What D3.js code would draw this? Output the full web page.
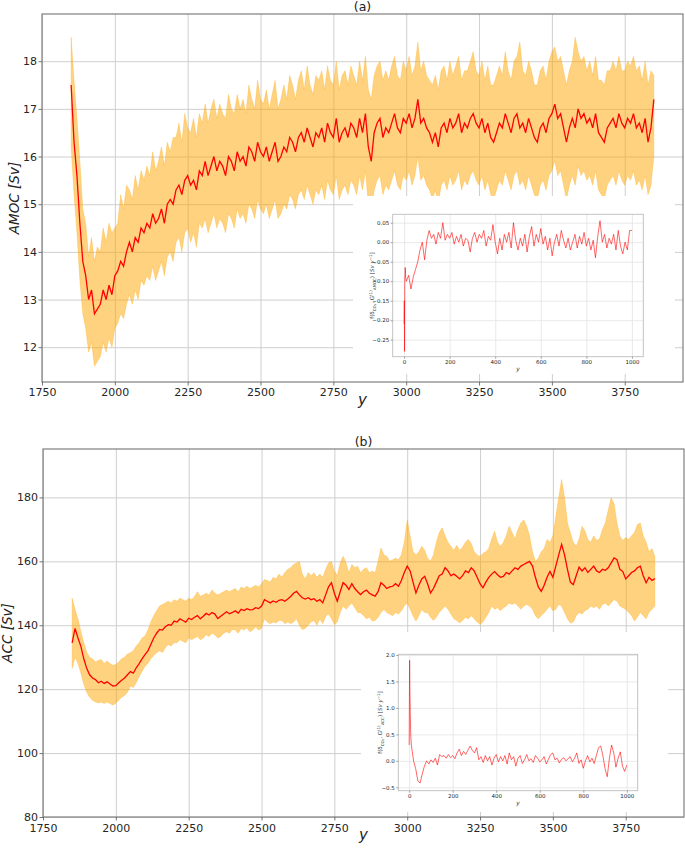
<!DOCTYPE html>
<html lang="en">
<head>
<meta charset="utf-8">
<script src="https://cdn.jsdelivr.net/npm/d3@7"></script>
<style>
body { margin: 0; background: #fff; }
text { font-family: "DejaVu Sans", sans-serif; }
</style>
</head>
<body>
<svg width="685" height="849"></svg>
<script>
// years of the main runs (one value read every 10 y)
var years = d3.range(1850, 3851, 10);
var mainTicksX = [1750, 2000, 2250, 2500, 2750, 3000, 3250, 3500, 3750];

var amocMean = [17.5, 16.3, 15.6, 14.6, 13.8, 13.5,
    13.0, 13.2, 12.7, 12.8, 12.9, 13.2, 13.0, 13.3, 13.1, 13.5,
    13.6, 13.8, 13.7, 14.0, 14.2, 14.0, 14.3, 14.2, 14.5, 14.4,
    14.6, 14.5, 14.8, 14.6, 14.7, 14.9, 14.6, 15.0, 15.1, 15.0,
    15.3, 15.4, 15.2, 15.5, 15.6, 15.4, 15.5, 15.3, 15.7, 15.6,
    15.9, 15.6, 15.8, 16.0, 15.7, 15.9, 15.8, 15.6, 16.0, 15.9,
    15.7, 16.1, 15.9, 16.0, 15.8, 16.2, 16.1, 15.9, 16.3, 16.1,
    16.0, 16.2, 15.9, 16.1, 16.3, 15.9, 16.0, 16.2, 16.1, 16.4,
    16.3, 16.1, 16.4, 16.5, 16.3, 16.6, 16.4, 16.2, 16.5, 16.4,
    16.6, 16.3, 16.7, 16.5, 16.4, 16.8, 16.3, 16.5, 16.6, 16.4,
    16.7, 16.6, 16.4, 16.8, 16.5, 16.9, 16.2, 15.9, 16.5, 16.7,
    16.8, 16.4, 16.6, 16.5, 16.7, 16.9, 16.6, 16.5, 16.8, 16.7,
    16.9, 16.6, 16.8, 17.2, 16.7, 16.8, 16.6, 16.5, 16.3, 16.5,
    16.2, 16.6, 16.7, 16.5, 16.8, 16.6, 16.7, 16.9, 16.5, 16.7,
    16.6, 16.8, 16.9, 16.7, 16.6, 16.8, 16.5, 16.7, 16.4, 16.3,
    16.5, 16.7, 16.6, 16.9, 16.7, 16.5, 16.8, 16.9, 16.6, 16.7,
    16.5, 16.8, 16.6, 16.4, 16.3, 16.6, 16.7, 16.5, 16.8, 16.9,
    17.1, 16.8, 16.9, 16.6, 16.3, 16.6, 16.8, 16.6, 17.0, 16.8,
    16.9, 16.7, 16.8, 16.6, 16.9, 16.5, 16.4, 16.3, 16.6, 16.7,
    16.8, 16.6, 16.9, 16.7, 16.6, 16.8, 16.7, 16.9, 16.6, 16.7,
    16.5, 16.8, 16.3, 16.6, 17.2];

var amocUpper = [18.5, 17.6, 16.8, 15.9, 14.9, 14.6,
    13.9, 14.3, 13.8, 14.1, 14.0, 14.5, 14.2, 14.6, 14.4, 14.5,
    14.6, 15.2, 14.9, 15.4, 15.3, 15.1, 15.6, 15.3, 15.7, 15.5,
    15.8, 15.6, 16.1, 15.7, 15.9, 16.2, 15.8, 16.3, 16.1, 16.4,
    16.4, 16.7, 16.3, 16.9, 16.6, 16.5, 16.8, 16.4, 16.9, 16.7,
    17.1, 16.7, 17.0, 17.2, 16.8, 17.1, 16.9, 16.8, 17.3, 17.0,
    16.9, 17.3, 17.0, 17.2, 16.9, 17.5, 17.2, 17.0, 17.6, 17.2,
    17.1, 17.4, 17.0, 17.3, 17.6, 17.0, 17.2, 17.5, 17.2, 17.7,
    17.5, 17.2, 17.6, 17.8, 17.4, 17.9, 17.5, 17.3, 17.7, 17.6,
    17.8, 17.4, 17.9, 17.6, 17.5, 18.0, 17.4, 17.7, 17.8, 17.5,
    17.9, 17.7, 17.5, 18.0, 17.6, 18.1, 17.4, 17.2, 17.7, 17.9,
    18.0, 17.6, 17.8, 17.6, 17.9, 18.1, 17.7, 17.6, 18.0, 17.8,
    18.1, 17.7, 17.9, 18.4, 17.8, 18.0, 17.7, 17.6, 17.5, 17.7,
    17.4, 17.8, 17.9, 17.6, 18.0, 17.7, 17.9, 18.1, 17.6, 17.8,
    17.8, 18.0, 18.2, 17.8, 17.7, 18.0, 17.6, 17.9, 17.5, 17.5,
    17.7, 17.9, 17.7, 18.2, 17.8, 17.6, 18.0, 18.1, 18.4, 17.8,
    17.7, 18.0, 17.8, 17.5, 17.5, 17.8, 17.9, 17.6, 18.0, 18.2,
    18.3, 18.0, 18.1, 17.8, 17.5, 17.8, 18.0, 18.5, 18.2, 18.0,
    18.1, 17.8, 18.0, 17.7, 18.1, 17.6, 17.6, 17.5, 17.8, 17.8,
    18.0, 17.8, 18.1, 17.8, 17.8, 18.0, 17.9, 18.1, 17.8, 17.9,
    17.6, 18.0, 17.5, 17.8, 17.7];

var amocLower = [16.2, 15.2, 14.4, 13.4, 12.7, 12.4,
    11.9, 12.1, 11.6, 11.7, 11.8, 12.1, 11.9, 12.2, 12.0, 12.4,
    12.5, 12.7, 12.6, 12.9, 13.1, 12.9, 13.2, 13.0, 13.4, 13.3,
    13.5, 13.4, 13.7, 13.4, 13.6, 13.8, 13.5, 13.9, 14.0, 13.8,
    14.2, 14.3, 14.0, 14.4, 14.5, 14.2, 14.4, 14.1, 14.6, 14.5,
    14.7, 14.4, 14.6, 14.8, 14.5, 14.7, 14.6, 14.4, 14.8, 14.7,
    14.5, 14.9, 14.7, 14.8, 14.6, 15.0, 14.9, 14.7, 15.1, 14.9,
    14.8, 15.0, 14.7, 14.9, 15.1, 14.7, 14.8, 15.0, 14.9, 15.2,
    15.1, 14.9, 15.2, 15.3, 15.1, 15.4, 15.2, 15.0, 15.3, 15.2,
    15.4, 15.1, 15.5, 15.3, 15.2, 15.6, 15.1, 15.3, 15.4, 15.2,
    15.5, 15.4, 15.2, 15.6, 15.3, 15.7, 15.0, 14.8, 15.3, 15.5,
    15.6, 15.2, 15.4, 15.3, 15.5, 15.7, 15.4, 15.3, 15.6, 15.5,
    15.7, 15.4, 15.6, 16.0, 15.5, 15.6, 15.4, 15.3, 15.1, 15.3,
    15.0, 15.4, 15.5, 15.3, 15.6, 15.4, 15.5, 15.7, 15.3, 15.5,
    15.4, 15.6, 15.7, 15.5, 15.4, 15.6, 15.3, 15.5, 15.2, 15.1,
    15.3, 15.5, 15.4, 15.7, 15.5, 15.3, 15.6, 15.7, 15.4, 15.5,
    15.3, 15.6, 15.4, 15.2, 15.1, 15.4, 15.5, 15.3, 15.6, 15.7,
    15.9, 15.6, 15.7, 15.4, 15.1, 15.4, 15.6, 15.4, 15.8, 15.6,
    15.7, 15.5, 15.6, 15.4, 15.7, 15.3, 15.2, 15.1, 15.4, 15.5,
    15.6, 15.4, 15.7, 15.5, 15.4, 15.6, 15.5, 15.7, 15.4, 15.5,
    15.3, 15.6, 15.2, 15.4, 16.0];

var accMean = [134.5, 139.0, 136.0, 133.4, 129.5, 126.5,
    124.5, 123.5, 123.0, 122.0, 122.5, 121.8, 122.3, 121.6, 121.0, 121.1,
    122.0, 122.8, 123.5, 124.5, 125.5, 125.0, 126.7, 128.0, 129.5, 130.8,
    132.0, 134.0, 136.0, 137.5, 138.7, 138.5, 139.5, 140.2, 140.0, 141.3,
    141.0, 142.0, 141.5, 141.0, 142.2, 141.8, 142.5, 143.0, 142.0, 142.8,
    143.7, 143.2, 144.0, 143.5, 142.1, 142.8, 143.5, 144.2, 143.6, 144.0,
    144.5, 143.8, 145.0, 144.6, 145.2, 144.8, 144.9, 145.5, 145.2, 146.0,
    148.0, 147.5, 147.0, 147.6, 147.2, 147.8, 148.0, 147.5, 148.2, 149.0,
    150.0, 150.6, 149.5, 148.6, 148.2, 148.6, 148.0, 148.3, 147.5, 148.0,
    147.0, 149.5, 152.0, 153.3, 150.0, 147.5, 150.5, 153.3, 152.5, 151.2,
    153.0, 151.5, 150.5, 149.6, 150.5, 151.0, 150.0, 149.5, 149.1, 150.5,
    153.3, 152.5, 151.5, 152.0, 152.2, 153.0, 152.2, 154.0, 156.5, 158.5,
    157.0, 153.5, 150.1, 152.5, 154.5, 155.3, 153.0, 150.1, 151.5, 153.5,
    155.5, 156.0, 158.0, 157.0, 155.5, 156.0, 155.3, 154.5, 155.5, 157.0,
    156.5, 158.0, 157.0, 155.0, 153.0, 151.7, 153.5, 155.0, 156.0, 156.8,
    155.8, 155.0, 155.3, 156.5, 156.0, 157.0, 158.0, 157.5, 158.5, 159.0,
    159.5, 160.0, 158.5, 155.0, 152.0, 150.6, 152.5, 155.0, 156.8, 155.0,
    158.5, 162.0, 165.3, 162.0, 157.5, 153.5, 152.7, 155.5, 158.2, 157.0,
    158.0, 156.5, 157.5, 158.5, 157.0, 156.5, 157.5, 157.2, 158.0, 159.5,
    161.1, 160.5, 157.5, 156.8, 154.5, 155.5, 156.5, 157.0, 158.0, 158.5,
    155.5, 153.3, 155.0, 154.0, 154.6];

var accUpper = [148.5, 145.0, 142.0, 138.0, 134.5, 131.5,
    130.0, 129.5, 128.5, 129.0, 129.3, 128.0, 128.8, 128.0, 127.5, 127.7,
    128.5, 129.5, 130.0, 131.0, 131.4, 132.0, 133.5, 134.5, 136.0, 136.6,
    138.5, 141.0, 143.0, 144.5, 146.0, 146.5, 147.0, 147.5, 147.0, 148.0,
    147.5, 148.5, 148.0, 147.5, 148.5, 148.0, 149.0, 150.5, 149.0, 149.5,
    150.0, 149.5, 151.0, 150.0, 149.5, 150.0, 150.5, 151.0, 150.5, 151.0,
    151.5, 150.5, 152.0, 151.5, 152.2, 151.5, 152.0, 152.5, 152.0, 153.0,
    154.3, 154.0, 153.5, 155.0, 154.5, 156.0, 155.0, 156.5, 157.5, 158.0,
    159.0, 159.5, 160.0, 156.0, 154.5, 156.5, 155.5, 156.4, 155.0, 156.0,
    155.0, 157.5, 159.5, 160.0, 157.0, 155.5, 159.5, 161.6, 159.5, 156.4,
    159.0, 158.0, 158.5, 156.4, 157.5, 158.0, 156.4, 157.0, 156.4, 160.0,
    164.2, 162.0, 161.6, 160.0, 160.5, 161.0, 160.5, 162.0, 166.0, 173.0,
    168.0, 163.0, 162.0, 163.0, 164.7, 163.5, 161.0, 160.1, 162.0, 166.0,
    169.0, 170.5, 168.0, 166.0, 164.7, 163.5, 165.0, 163.5, 164.5, 166.0,
    166.8, 165.5, 163.0, 162.0, 161.5, 162.5, 163.0, 164.0, 167.0, 169.4,
    166.0, 164.7, 166.0, 168.0, 171.0, 169.0, 167.0, 170.0, 172.0, 173.0,
    171.0, 168.0, 163.0, 160.0, 161.0, 163.0, 164.0, 166.8, 166.0, 168.0,
    174.0, 180.0, 185.6, 180.0, 172.0, 168.9, 166.0, 164.7, 167.0, 171.0,
    169.5, 166.8, 166.0, 168.0, 166.5, 167.0, 170.0, 172.0, 176.0, 179.9,
    178.0, 172.0, 167.9, 166.5, 167.5, 166.8, 168.0, 169.0, 171.5, 172.0,
    168.0, 166.0, 163.0, 164.0, 161.5];

var accLower = [126.5, 130.0, 128.0, 125.0, 121.5, 119.0,
    117.5, 116.5, 116.0, 115.7, 116.0, 115.5, 116.0, 115.5, 115.0, 115.7,
    116.5, 117.5, 118.0, 119.0, 121.0, 120.5, 122.0, 124.0, 125.5, 127.2,
    128.0, 129.5, 130.5, 131.4, 132.0, 131.5, 133.0, 134.0, 133.5, 134.5,
    134.5, 135.5, 135.0, 134.5, 136.0, 135.5, 136.0, 136.5, 135.5, 136.0,
    137.0, 136.5, 137.5, 137.0, 136.0, 136.5, 137.5, 138.0, 137.5, 138.7,
    138.5, 137.5, 139.0, 138.5, 139.2, 138.0, 138.5, 139.5, 138.5, 139.0,
    142.0, 141.0, 140.5, 141.0, 140.7, 141.5, 141.5, 140.5, 141.0, 140.5,
    141.0, 142.0, 140.0, 138.7, 139.0, 140.0, 141.0, 141.5, 140.0, 142.0,
    140.5, 142.8, 143.5, 142.0, 140.2, 141.0, 144.0, 146.0, 145.0, 146.0,
    147.0, 145.5, 144.0, 143.9, 143.0, 142.0, 142.5, 141.3, 141.5, 142.5,
    144.0, 144.9, 144.0, 143.5, 143.0, 144.0, 143.5, 144.5, 146.0, 147.0,
    145.0, 143.0, 141.3, 143.0, 144.9, 144.0, 143.9, 142.5, 141.5, 142.5,
    144.0, 145.0, 146.0, 145.0, 143.5, 142.0, 141.5, 140.7, 141.5, 142.5,
    142.0, 143.0, 142.0, 141.0, 140.2, 141.0, 142.5, 144.0, 146.0, 145.0,
    145.5, 144.5, 145.5, 146.0, 147.0, 146.5, 147.0, 146.0, 145.0, 146.0,
    146.5, 146.0, 145.0, 143.0, 142.0, 143.0, 143.9, 145.0, 146.0, 144.5,
    145.0, 146.5, 146.0, 144.0, 142.0, 140.7, 141.0, 143.0, 144.0, 143.5,
    144.5, 145.0, 146.0, 145.5, 146.0, 145.0, 146.5, 147.0, 146.0, 147.0,
    148.0, 147.5, 146.0, 145.5, 145.0, 144.0, 143.0, 141.3, 142.5, 144.0,
    143.0, 142.0, 144.0, 145.0, 146.0];

// inset time axis (first years denser)
var insetT = [0, 1, 2, 3, 5, 7].concat(d3.range(10, 1001, 10));
var insetTicksX = [0, 200, 400, 600, 800, 1000];

var amocInset = [-0.21, -0.15, -0.28, -0.10, -0.065, -0.09,
    -0.10, -0.085, -0.12, -0.09, -0.07, -0.05, -0.02, 0.0, -0.045, 0.005,
    0.03, 0.01, 0.02, -0.005, 0.025, 0.01, 0.05, 0.005, 0.02, 0.01,
    0.025, -0.005, 0.015, 0.0, 0.02, -0.01, 0.01, 0.005, -0.025, 0.01,
    0.025, 0.0, 0.02, 0.01, 0.03, -0.01, 0.015, 0.005, 0.045, 0.0,
    -0.03, 0.01, -0.02, 0.02, 0.0, 0.025, -0.015, 0.05, 0.005, -0.02,
    0.01, -0.01, 0.02, -0.025, 0.015, 0.04, -0.01, 0.02, 0.0, 0.035,
    -0.005, 0.015, -0.02, 0.01, -0.035, 0.0, 0.02, -0.01, 0.03, 0.005,
    -0.015, 0.01, -0.02, 0.0, 0.02, -0.015, 0.015, -0.005, 0.025, -0.01,
    0.01, -0.02, 0.005, -0.04, 0.015, 0.055, 0.0, 0.02, -0.015, 0.01,
    -0.005, 0.02, -0.02, 0.03, -0.01, -0.03, 0.0, -0.02, 0.03, 0.03];

var accInset = [0.3, 1.2, 1.9, 1.4, 0.9, 0.5,
    0.3, 0.0, -0.15, -0.38, -0.42, -0.25, -0.1, 0.0, -0.06, 0.02,
    -0.03, 0.05, -0.08, 0.12, 0.08, 0.1, 0.05, 0.12, 0.06, 0.1,
    0.04, 0.15, 0.22, 0.1, 0.18, 0.12, 0.2, 0.28, 0.2, 0.15,
    0.25, 0.02, 0.08, -0.03, 0.1, 0.0, 0.08, -0.08, 0.05, 0.12,
    -0.02, 0.08, 0.0, 0.1, -0.06, 0.15, 0.02, 0.08, -0.1, 0.05,
    0.1, -0.05, 0.02, 0.12, 0.0, 0.04, -0.03, 0.1, 0.05, -0.02,
    0.02, 0.08, -0.06, 0.03, 0.12, 0.15, 0.02, 0.05, -0.04, 0.03,
    0.06, 0.0, 0.04, 0.08, -0.02, 0.05, 0.15, -0.05, 0.02, -0.14,
    0.0, 0.1, -0.02, 0.05, -0.05, 0.1, 0.25, 0.28, 0.1, -0.15,
    -0.3, 0.05, 0.3, 0.15, -0.12, 0.05, 0.17, -0.1, -0.2, -0.08];

var amocTicksY = [12, 13, 14, 15, 16, 17, 18];
var accTicksY = [80, 100, 120, 140, 160, 180];
var amocInsetTicksY = [-0.25, -0.20, -0.15, -0.10, -0.05, 0.00, 0.05];
var accInsetTicksY = [-0.5, 0.0, 0.5, 1.0, 1.5, 2.0];

var svg = d3.select("svg");

function styleAxis(sel, size, col) {
    sel.attr("font-family", "DejaVu Sans").attr("font-size", size);
    sel.select(".domain").remove();
    sel.selectAll(".tick line").attr("stroke", col).attr("stroke-width", 0.8);
    sel.selectAll(".tick text").attr("fill", "#262626");
}

function drawPanel(p) {
    var g = svg.append("g");
    var x = d3.scaleLinear().domain([1750, 3950]).range([p.l, p.r]);
    var y = d3.scaleLinear().domain(p.yDomain).range([p.b, p.t]);

    // grid
    g.append("g").call(d3.axisBottom(x).tickValues(mainTicksX).tickSize(p.b - p.t).tickFormat(""))
        .attr("transform", "translate(0," + p.t + ")")
        .call(function(s) { s.select(".domain").remove(); s.selectAll("line").attr("stroke", "#cfcfcf").attr("stroke-width", 1); });
    g.append("g").call(d3.axisLeft(y).tickValues(p.ticksY).tickSize(-(p.r - p.l)).tickFormat(""))
        .attr("transform", "translate(" + p.l + ",0)")
        .call(function(s) { s.select(".domain").remove(); s.selectAll("line").attr("stroke", "#cfcfcf").attr("stroke-width", 1); });

    var band = d3.area()
        .x(function(d, i) { return x(years[i]); })
        .y0(function(d, i) { return y(p.lower[i]); })
        .y1(function(d, i) { return y(p.upper[i]); });
    g.append("path").datum(p.upper).attr("d", band)
        .attr("fill", "#ffa500").attr("fill-opacity", 0.5)
        .attr("stroke", "#ffa500").attr("stroke-opacity", 0.35).attr("stroke-width", 0.8);

    var line = d3.line()
        .x(function(d, i) { return x(years[i]); })
        .y(function(d) { return y(d); });
    g.append("path").datum(p.mean).attr("d", line)
        .attr("fill", "none").attr("stroke", "#ff0000").attr("stroke-width", 1.3);

    // frame
    g.append("rect").attr("x", p.l).attr("y", p.t).attr("width", p.r - p.l).attr("height", p.b - p.t)
        .attr("fill", "none").attr("stroke", "#7f7f7f").attr("stroke-width", 1.2);

    g.append("g").attr("transform", "translate(0," + p.b + ")")
        .call(d3.axisBottom(x).tickValues(mainTicksX).tickSize(3.5).tickPadding(p.padX).tickFormat(d3.format("d")))
        .call(styleAxis, 11, "#555");
    g.append("g").attr("transform", "translate(" + p.l + ",0)")
        .call(d3.axisLeft(y).tickValues(p.ticksY).tickSize(3.5).tickPadding(1.5).tickFormat(d3.format("d")))
        .call(styleAxis, 11, "#555");

    g.append("text").attr("x", (p.l + p.r) / 2).attr("y", p.t - 3).attr("text-anchor", "middle")
        .attr("font-size", 12.5).attr("fill", "#222").text(p.title);
    g.append("text").attr("x", (p.l + p.r) / 2).attr("y", p.b + 23).attr("text-anchor", "middle")
        .attr("font-size", 15).attr("font-style", "italic").attr("fill", "#222").text("y");
    g.append("text").attr("transform", "translate(" + p.yLabelX + "," + (p.t + p.b) / 2 + ") rotate(-90)")
        .attr("text-anchor", "middle").attr("font-size", 13.5).attr("font-style", "italic")
        .attr("fill", "#222").text(p.yLabel);

    drawInset(p.inset);
}

function drawInset(q) {
    var g = svg.append("g");
    g.append("rect").attr("x", q.bg[0]).attr("y", q.bg[1]).attr("width", q.bg[2] - q.bg[0])
        .attr("height", q.bg[3] - q.bg[1]).attr("fill", "#fff");
    var x = d3.scaleLinear().domain([-50, 1050]).range([q.l, q.r]);
    var y = d3.scaleLinear().domain(q.yDomain).range([q.b, q.t]);

    g.append("g").call(d3.axisBottom(x).tickValues(insetTicksX).tickSize(q.b - q.t).tickFormat(""))
        .attr("transform", "translate(0," + q.t + ")")
        .call(function(s) { s.select(".domain").remove(); s.selectAll("line").attr("stroke", "#e3e3e3").attr("stroke-width", 0.8); });
    g.append("g").call(d3.axisLeft(y).tickValues(q.ticksY).tickSize(-(q.r - q.l)).tickFormat(""))
        .attr("transform", "translate(" + q.l + ",0)")
        .call(function(s) { s.select(".domain").remove(); s.selectAll("line").attr("stroke", "#e3e3e3").attr("stroke-width", 0.8); });

    var line = d3.line()
        .x(function(d, i) { return x(insetT[i]); })
        .y(function(d) { return y(d); });
    g.append("path").datum(q.values).attr("d", line)
        .attr("fill", "none").attr("stroke", "#ff0000").attr("stroke-opacity", 0.75).attr("stroke-width", 0.8);

    g.append("rect").attr("x", q.l).attr("y", q.t).attr("width", q.r - q.l).attr("height", q.b - q.t)
        .attr("fill", "none").attr("stroke", "#bdbdbd").attr("stroke-width", 0.9);

    g.append("g").attr("transform", "translate(0," + q.b + ")")
        .call(d3.axisBottom(x).tickValues(insetTicksX).tickSize(2).tickPadding(1.5).tickFormat(d3.format("d")))
        .call(styleAxis, 5.5, "#888");
    g.append("g").attr("transform", "translate(" + q.l + ",0)")
        .call(d3.axisLeft(y).tickValues(q.ticksY).tickSize(2).tickPadding(1.5).tickFormat(d3.format(q.fmt)))
        .call(styleAxis, 5.5, "#888");

    g.append("text").attr("x", (q.l + q.r) / 2).attr("y", q.b + 14).attr("text-anchor", "middle")
        .attr("font-size", 6).attr("font-style", "italic").attr("fill", "#333").text("y");

    // rotated y label with sub/superscripts
    var t = g.append("text").attr("transform", "translate(" + q.yLabelX + "," + (q.t + q.b) / 2 + ") rotate(-90)")
        .attr("text-anchor", "middle").attr("font-size", 5.5).attr("fill", "#333");
    var parts = [["f(δ", 0], ["CO₂", 1], [", G", 0], ["(1)", -1], [q.sub, 1], [") [", 0], ["Sv y", 0, "italic"], ["−1", -1], ["]", 0]];
    var cur = 0;
    parts.forEach(function(pt) {
        var target = pt[1] * 2;
        var ts = t.append("tspan").attr("dy", target - cur).text(pt[0]);
        if (pt[1] !== 0) ts.attr("font-size", 4);
        if (pt[2]) ts.attr("font-style", pt[2]);
        cur = target;
    });
}

drawPanel({
    l: 42, t: 14, r: 683, b: 382, yDomain: [11.27, 18.99], ticksY: amocTicksY,
    mean: amocMean, upper: amocUpper, lower: amocLower, padX: 2.5,
    title: "(a)", yLabel: "AMOC [Sv]", yLabelX: 19,
    inset: {
        bg: [353, 196, 675, 374], l: 392.7, t: 214.3, r: 643.3, b: 356.7,
        yDomain: [-0.2936, 0.0715], ticksY: amocInsetTicksY, fmt: ".2f",
        values: amocInset, sub: "AMOC", yLabelX: 374
    }
});

drawPanel({
    l: 43, t: 449, r: 684, b: 817, yDomain: [80, 195.15], ticksY: accTicksY,
    mean: accMean, upper: accUpper, lower: accLower, padX: 4,
    title: "(b)", yLabel: "ACC [Sv]", yLabelX: 11.5,
    inset: {
        bg: [361, 632, 668, 812], l: 398.3, t: 654.3, r: 637.7, b: 790.7,
        yDomain: [-0.564, 2.013], ticksY: accInsetTicksY, fmt: ".1f",
        values: accInset, sub: "ACC", yLabelX: 382
    }
});
</script>
</body>
</html>
